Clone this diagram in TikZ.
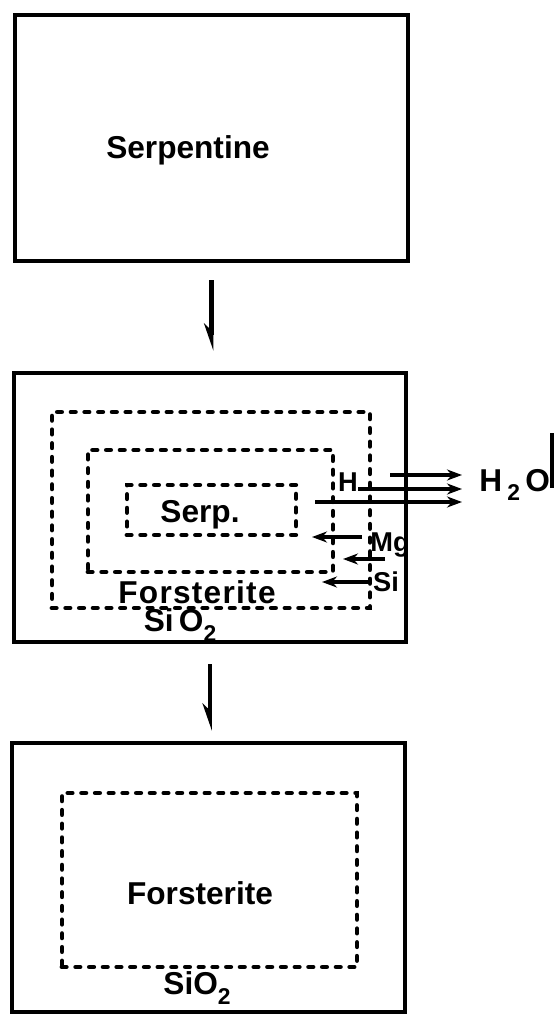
\documentclass[tikz,border=0pt]{standalone}
\usepackage{fontspec}
\setmainfont{Liberation Sans}
\usepackage{tikz}
\usetikzlibrary{positioning,arrows.meta}
\newcommand{\lowsub}[1]{\raisebox{-0.55ex}{\fontsize{13}{13}\selectfont #1}}

\begin{document}
\begin{tikzpicture}[x=0.02cm,y=-0.02cm,font=\bfseries\fontsize{18}{21}\selectfont,
  box/.style={rectangle,draw,line width=2.6pt,inner sep=0pt},
  zone/.style={rectangle,draw,line width=2.8pt,line cap=round,dash pattern=on 2.4pt off 5.4pt,inner sep=0pt},
  lbl/.style={inner sep=0pt},
  ion/.style={inner sep=0pt,font=\bfseries\fontsize{15.5}{18}\selectfont},
  flow/.style={-{Stealth[harpoon,swap,length=4.4mm,width=3mm]},line width=2.4pt,shorten <=0.34cm},
  mig/.style={-{Stealth[length=3mm,width=2.2mm]},line width=2.2pt}]
\useasboundingbox (0,0) rectangle (555,1014);
% Serpentine
\node[box,minimum width=7.86cm,minimum height=4.92cm] (box1) at (211.5,138) {};
\node[lbl] (serpentine) at (188,150) {Serpentine};
% reaction zone
\node[box,minimum width=7.84cm,minimum height=5.38cm] (box2) at (210,507.5) {};
\node[zone,minimum width=6.36cm,minimum height=3.92cm] (outer) at (211,510) {};
\node[zone,minimum width=4.90cm,minimum height=2.44cm] (middle) at (210.5,511) {};
\node[zone,minimum width=3.38cm,minimum height=1.00cm] (inner) at (211.5,510) {};
\node[lbl] (serp) at (200,515) {Serp.};
\node[lbl,font=\bfseries\fontsize{18}{21}\selectfont\addfontfeature{LetterSpace=4}] (fo2) at (197,592) {Forsterite};
\node[lbl] (si2) at (180,625) {Si\,O\lowsub{2}};
\node[ion] (h) at (348,482) {H};
\node[ion] (mg) at (390,545) {Mg};
\node[ion] (si) at (386,582) {Si};
\node[lbl,anchor=west] (water) at (479,485) {H\,\lowsub{2}\,O};
\coordinate (hA) at (390,475); \coordinate (wA) at (462,475);
\coordinate (hB) at (358,489); \coordinate (wB) at (462,489);
\coordinate (hC) at (315,502); \coordinate (wC) at (462,502);
\draw[mig] (hA) -- (wA);
\draw[mig] (hB) -- (wB);
\draw[mig] (hC) -- (wC);
\coordinate (mgA) at (362,537); \coordinate (mgB) at (312,537);
\coordinate (mgC) at (385,559); \coordinate (mgD) at (343,559);
\coordinate (siA) at (370,582); \coordinate (siB) at (322,582);
\draw[mig] (mgA) -- (mgB);
\draw[mig] (mgC) -- (mgD);
\draw[mig] (siA) -- (siB);
\coordinate (barT) at (552,433); \coordinate (barB) at (552,488);
\draw[line width=2.4pt] (barT) -- (barB);
% Forsterite
\node[box,minimum width=7.86cm,minimum height=5.38cm] (box3) at (208.5,877.5) {};
\node[zone,minimum width=5.90cm,minimum height=3.48cm] (rim) at (209.5,880) {};
\node[lbl] (fo3) at (200,893) {Forsterite};
\node[lbl] (si3) at (197,988) {SiO\lowsub{2}};
\draw[flow,shorten >=0.4cm] (box1.south) -- (box1.south |- box2.north);
\draw[flow,shorten <=0.4cm,shorten >=0.2cm] (box2.south) -- (box2.south |- box3.north);
\end{tikzpicture}
\end{document}
